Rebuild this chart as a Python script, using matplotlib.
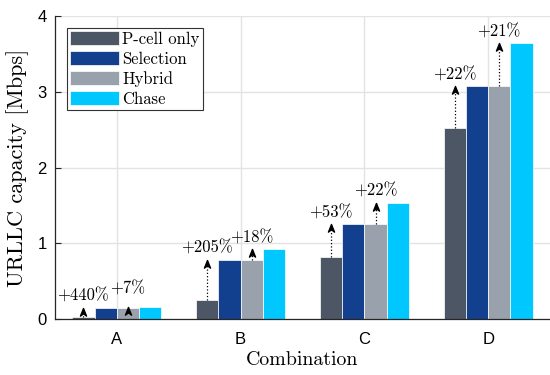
import matplotlib as mpl
mpl.use('Agg')

import numpy as np
import matplotlib.pyplot as plt
from matplotlib.path import Path

combos = ["A", "B", "C", "D"]
series = ["P-cell only", "Selection", "Hybrid", "Chase"]
pcell = [0.028, 0.257, 0.821, 2.516]
selection = [0.151, 0.785, 1.256, 3.074]
hybrid = [0.151, 0.785, 1.256, 3.074]
chase = [0.162, 0.925, 1.536, 3.636]
gain_pcell = ["+440%", "+205%", "+53%", "+22%"]
gain_chase = ["+7%", "+18%", "+22%", "+21%"]

colors = ["#4c5665", "#12408f", "#98a1ac", "#00c8ff"]
serif = "cmr10"
sans = "Liberation Sans"

# stealth style arrow head, tip at the origin
head = Path([(0, 0), (0.4, -1), (0, -0.7), (-0.4, -1), (0, 0)],
            [Path.MOVETO, Path.LINETO, Path.LINETO, Path.LINETO, Path.CLOSEPOLY])

fig = plt.figure(figsize=(5.5, 3.75), dpi=100)
ax = fig.add_axes([55 / 550, 0.1485, 1 - 55 / 550, 0.958 - 0.1485])

x = np.arange(1, len(combos) + 1)
w = 0.18
values = [pcell, selection, hybrid, chase]
for k in range(4):
    ax.bar(x + (k - 1.5) * w, values[k], w, color=colors[k], edgecolor="white",
           linewidth=0.5, label=series[k], zorder=3)


def gain_arrow(xp, start, target, text):
    ax.plot([xp, xp], [start, target], color="k", linestyle=":", linewidth=0.9, zorder=4)
    ax.plot([xp], [target], marker=head, markersize=11, color="k", zorder=5)
    ax.text(xp, max(target, start + 0.1) + 0.09, text, ha="center", va="baseline",
            fontsize=12, family=serif, zorder=5)


for i in range(len(combos)):
    gain_arrow(x[i] - 1.5 * w, pcell[i], selection[i], gain_pcell[i])
    gain_arrow(x[i] + 0.5 * w, hybrid[i], chase[i], gain_chase[i])

ax.set_xlim(0.5, 4.5)
ax.set_ylim(0, 4)
ax.set_xticks(x)
ax.set_xticklabels(combos, fontsize=12, family=sans)
ax.set_yticks([0, 1, 2, 3, 4])
ax.set_yticklabels(["0", "1", "2", "3", "4"], fontsize=12, family=sans)
ax.tick_params(axis="y", direction="in", length=4, width=0.8, color="#262626", pad=6)
ax.tick_params(axis="x", length=0, pad=9)
ax.grid(True, color="#e3e3e3", linewidth=1, zorder=0)
ax.set_axisbelow(True)
for s in ["top", "right"]:
    ax.spines[s].set_visible(False)
for s in ["left", "bottom"]:
    ax.spines[s].set_color("#262626")
    ax.spines[s].set_linewidth(0.9)
    ax.spines[s].set_zorder(6)

ax.set_xlabel("Combination", fontsize=14.3, family=serif, labelpad=3)
ax.set_ylabel("URLLC capacity [Mbps]", fontsize=16, family=serif, labelpad=6)

leg = ax.legend(loc="upper left", bbox_to_anchor=(12 / 495, 0.96), prop={"family": serif, "size": 12},
                frameon=True, fancybox=False, framealpha=1, edgecolor="#333333",
                handlelength=2.9, handleheight=0.9, handletextpad=0.2, labelspacing=0.25,
                borderpad=0.2, borderaxespad=0)
leg.get_frame().set_linewidth(0.8)

fig.savefig("out.png", dpi=100)
